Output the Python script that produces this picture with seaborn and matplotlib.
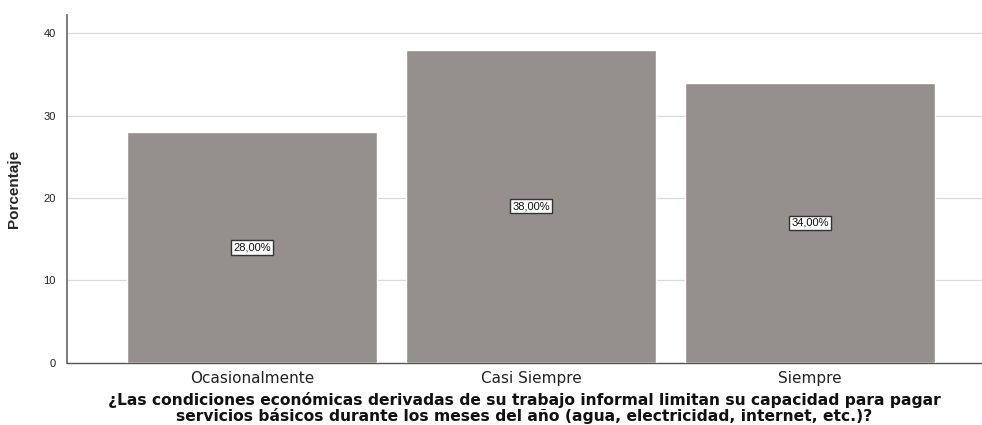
import matplotlib
matplotlib.use("Agg")
import matplotlib.pyplot as plt
import seaborn as sns
import pandas as pd

# Data
categories = ["Ocasionalmente", "Casi Siempre", "Siempre"]
percentages = [28.0, 38.0, 34.0]
y_ticks = [0, 10, 20, 30, 40]

x_label = ("¿Las condiciones económicas derivadas de su trabajo informal limitan su capacidad para pagar\n"
           "servicios básicos durante los meses del año (agua, electricidad, internet, etc.)?")
y_label = "Porcentaje"

sns.set_style("white")
plt.rcParams['font.family'] = ['Liberation Sans', 'DejaVu Sans']

df = pd.DataFrame({"cat": categories, "pct": percentages})

fig = plt.figure(figsize=(9.82, 4.25), dpi=100)
ax = fig.add_axes([0.068, 0.146, 0.932, 0.819])

sns.barplot(data=df, x="cat", y="pct", color="#958F8E", saturation=1,
            width=0.896, ax=ax, zorder=3)

ax.set_xlim(-0.663, 2.616)
ax.set_ylim(0, 42.2)
ax.set_yticks(y_ticks)
ax.set_yticklabels([str(t) for t in y_ticks], fontsize=8, color="#222222")
ax.set_xticks(range(len(categories)))
ax.set_xticklabels(categories, fontsize=11, family="DejaVu Sans", color="#222222")
ax.tick_params(axis='x', length=0, pad=6)
ax.tick_params(axis='y', length=0, pad=8)

ax.grid(axis='y', color="#dadada", linewidth=0.9, zorder=0)
ax.set_axisbelow(True)

for side in ["top", "right"]:
    ax.spines[side].set_visible(False)
ax.spines["left"].set_color("#666666")
ax.spines["bottom"].set_color("#555555")
ax.spines["left"].set_linewidth(1.2)
ax.spines["bottom"].set_linewidth(1.0)

# Value labels in the middle of each bar
for i, v in enumerate(percentages):
    ax.text(i, v / 2, f"{v:.2f}%".replace(".", ","), ha="center", va="center",
            fontsize=8, color="#111111", zorder=5,
            bbox=dict(boxstyle="square,pad=0.2", facecolor="white",
                      edgecolor="#333333", linewidth=1))

ax.set_xlabel(x_label, fontsize=11.2, fontweight="bold", family="DejaVu Sans",
              color="#111111", linespacing=1.0, labelpad=4)
ax.set_ylabel(y_label, fontsize=11, fontweight="bold", labelpad=16)

fig.savefig("out.png", dpi=100, facecolor="white")
